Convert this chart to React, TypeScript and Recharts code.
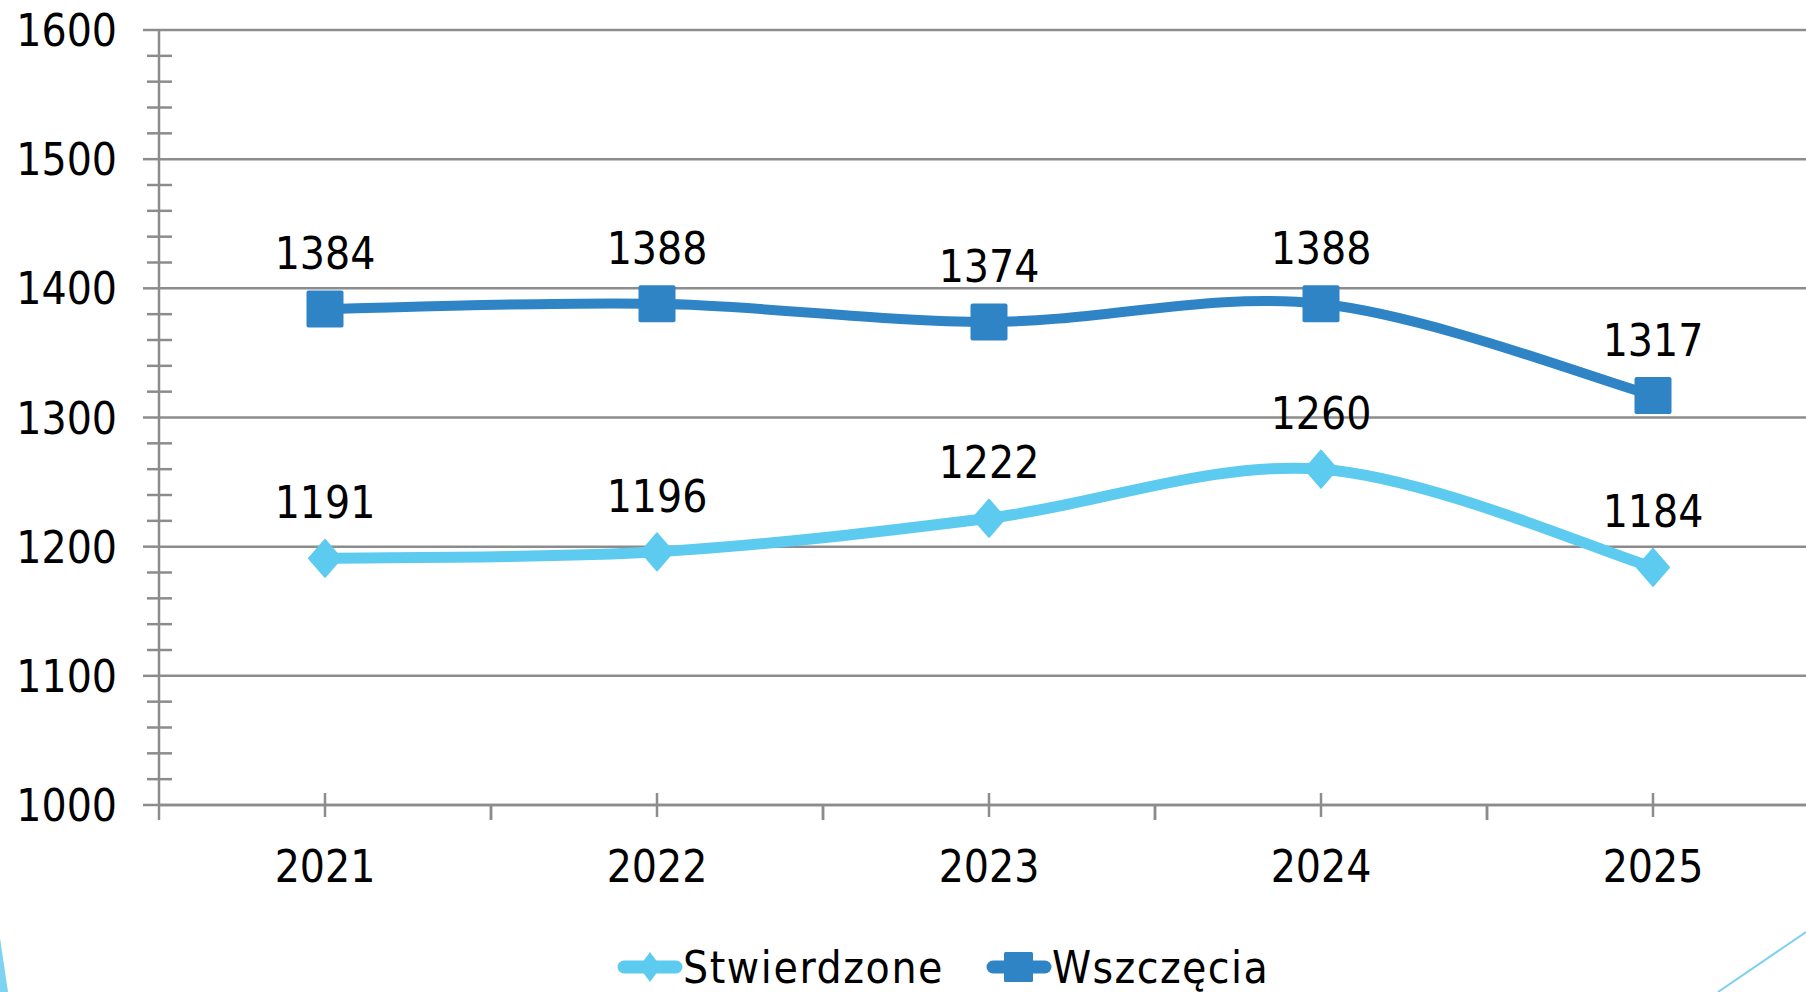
import React from 'react';
import { LineChart, Line, XAxis, YAxis, CartesianGrid, Legend } from 'recharts';

// ---- data ----
const years = ['2021', '2022', '2023', '2024', '2025'];
const stwierdzone = [1191, 1196, 1222, 1260, 1184];
const wszczecia = [1384, 1388, 1374, 1388, 1317];
const yMajorTicks = [1000, 1100, 1200, 1300, 1400, 1500, 1600];
const yAllTicks = [
  1000, 1020, 1040, 1060, 1080, 1100, 1120, 1140, 1160, 1180, 1200, 1220, 1240, 1260, 1280,
  1300, 1320, 1340, 1360, 1380, 1400, 1420, 1440, 1460, 1480, 1500, 1520, 1540, 1560, 1580, 1600,
];
const seriesNames = ['Stwierdzone', 'Wszczęcia'];

const data = years.map((year, i) => ({
  year,
  Stwierdzone: stwierdzone[i],
  'Wszczęcia': wszczecia[i],
}));

// ---- layout / style ----
const CHART_W = 1830;
const CHART_H = 992;
const MARGIN = { top: 30, right: 11, left: 39, bottom: 47 };
const Y_AXIS_W = 120;
const X_AXIS_H = 80;
const PLOT_W = CHART_W - MARGIN.left - MARGIN.right - Y_AXIS_W;
const HALF_BAND = PLOT_W / years.length / 2;

const FONT = '"DejaVu Sans Condensed", "Noto Sans", sans-serif';
const FS = 44;
const AXIS = '#8c8c8c';
const LIGHT = '#5DCBEF';
const DARK = '#2E84C5';

// Excel-like smoothing (Catmull-Rom through the points)
function excelSmooth(context: any) {
  let pts: number[][] = [];
  return {
    areaStart() {},
    areaEnd() {},
    lineStart() {
      pts = [];
    },
    point(x: number, y: number) {
      pts.push([+x, +y]);
    },
    lineEnd() {
      const n = pts.length;
      if (!n) return;
      context.moveTo(pts[0][0], pts[0][1]);
      for (let i = 0; i < n - 1; i++) {
        const p0 = pts[Math.max(i - 1, 0)];
        const p1 = pts[i];
        const p2 = pts[i + 1];
        const p3 = pts[Math.min(i + 2, n - 1)];
        context.bezierCurveTo(
          p1[0] + (p2[0] - p0[0]) / 6,
          p1[1] + (p2[1] - p0[1]) / 6,
          p2[0] - (p3[0] - p1[0]) / 6,
          p2[1] - (p3[1] - p1[1]) / 6,
          p2[0],
          p2[1]
        );
      }
    },
  };
}

const YTick = (props: any) => {
  const { x, y, payload } = props;
  const v = payload.value;
  const major = yMajorTicks.includes(v);
  return (
    <g>
      {major ? (
        <line x1={x - 16} x2={x} y1={y} y2={y} stroke={AXIS} strokeWidth={2.5} />
      ) : (
        <line x1={x - 12} x2={x + 13} y1={y} y2={y} stroke={AXIS} strokeWidth={2.5} />
      )}
      {major && (
        <text x={x - 42} y={y + 16} textAnchor="end" fontSize={FS} fontFamily={FONT} fill="#000">
          {v}
        </text>
      )}
    </g>
  );
};

const XTick = (props: any) => {
  const { x, y, payload } = props;
  return (
    <g>
      <line x1={x} x2={x} y1={y - 12} y2={y + 12} stroke={AXIS} strokeWidth={2.5} />
      <line x1={x - HALF_BAND} x2={x - HALF_BAND} y1={y} y2={y + 15} stroke={AXIS} strokeWidth={2.5} />
      <line x1={x + HALF_BAND} x2={x + HALF_BAND} y1={y} y2={y + 15} stroke={AXIS} strokeWidth={2.5} />
      <text x={x} y={y + 77} textAnchor="middle" fontSize={FS} fontFamily={FONT} fill="#000">
        {payload.value}
      </text>
    </g>
  );
};

const SquareDot = (p: any) => (
  <rect key={`sq-${p.index}`} x={p.cx - 18.5} y={p.cy - 18.5} width={37} height={37} rx={2} fill={DARK} />
);

const DiamondDot = (p: any) => (
  <polygon
    key={`dm-${p.index}`}
    points={`${p.cx},${p.cy - 18.5} ${p.cx + 16},${p.cy} ${p.cx},${p.cy + 18.5} ${p.cx - 16},${p.cy}`}
    fill={LIGHT}
    stroke={LIGHT}
    strokeWidth={2}
    strokeLinejoin="round"
  />
);

const ValueLabel = (p: any) => (
  <text key={`lb-${p.index}`} x={p.x} y={p.y - 40} textAnchor="middle" fontSize={FS} fontFamily={FONT} fill="#000">
    {p.value}
  </text>
);

const LegendContent = () => (
  <svg width={1806} height={60} style={{ display: 'block' }}>
    <g>
      <line x1={624} x2={676} y1={35} y2={35} stroke={LIGHT} strokeWidth={13} strokeLinecap="round" />
      <polygon points="650,20 661,35 650,50 639,35" fill={LIGHT} />
      <text x={683} y={51} fontSize={FS} fontFamily={FONT} fill="#000" letterSpacing={1.6}>
        {seriesNames[0]}
      </text>
    </g>
    <g>
      <line x1={993} x2={1045} y1={35} y2={35} stroke={DARK} strokeWidth={13} strokeLinecap="round" />
      <rect x={1004} y={20} width={29} height={30} rx={1.5} fill={DARK} />
      <text x={1052} y={51} fontSize={FS} fontFamily={FONT} fill="#000" letterSpacing={1.4}>
        {seriesNames[1]}
      </text>
    </g>
  </svg>
);

export default function App() {
  return (
    <div
      style={{
        position: 'fixed',
        left: 0,
        top: 0,
        width: 1806,
        height: 992,
        overflow: 'hidden',
        background: '#fff',
      }}
    >
      <LineChart width={CHART_W} height={CHART_H} data={data} margin={MARGIN}>
        <CartesianGrid vertical={false} horizontalValues={yMajorTicks} stroke={AXIS} strokeWidth={2.5} />
        <XAxis
          dataKey="year"
          height={X_AXIS_H}
          padding={{ left: HALF_BAND, right: HALF_BAND }}
          axisLine={{ stroke: AXIS, strokeWidth: 2.5 }}
          tickLine={false}
          tickSize={0}
          tickMargin={0}
          tick={<XTick />}
          interval={0}
        />
        <YAxis
          width={Y_AXIS_W}
          domain={[1000, 1600]}
          ticks={yAllTicks}
          interval={0}
          allowDataOverflow
          axisLine={{ stroke: AXIS, strokeWidth: 2.5 }}
          tickLine={false}
          tickSize={0}
          tickMargin={0}
          tick={<YTick />}
        />
        <Legend verticalAlign="bottom" content={<LegendContent />} wrapperStyle={{ left: 0, bottom: 0, width: 1806, height: 60 }} />
        <Line
          dataKey="Stwierdzone"
          type={excelSmooth as any}
          stroke={LIGHT}
          strokeWidth={11}
          dot={DiamondDot}
          activeDot={false}
          label={ValueLabel}
          isAnimationActive={false}
        />
        <Line
          dataKey="Wszczęcia"
          type={excelSmooth as any}
          stroke={DARK}
          strokeWidth={10}
          dot={SquareDot}
          activeDot={false}
          label={ValueLabel}
          isAnimationActive={false}
        />
      </LineChart>
      <svg
        width={1806}
        height={992}
        style={{ position: 'absolute', left: 0, top: 0, pointerEvents: 'none' }}
      >
        <polygon points="0,938 8,992 0,992" fill="#7FD3F2" />
        <line x1={1718} y1={992} x2={1806} y2={932} stroke="#7CCFEF" strokeWidth={2} />
      </svg>
    </div>
  );
}
